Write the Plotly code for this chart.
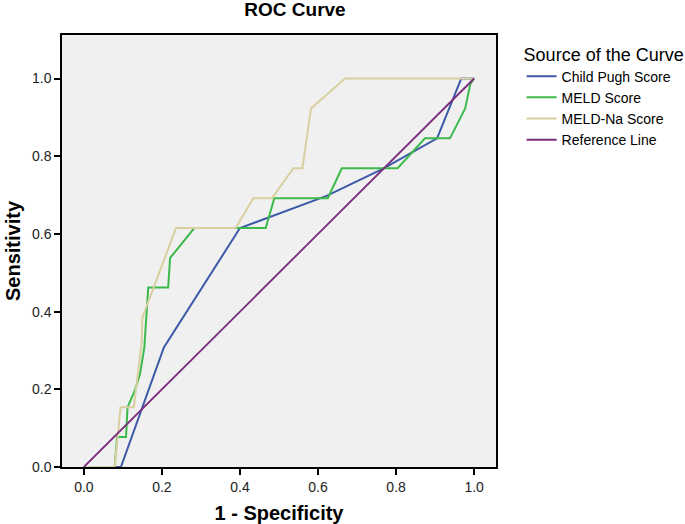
import plotly.graph_objects as go

# ROC coordinates (1 - specificity, sensitivity)
child_fpr = [0.0, 0.095, 0.205, 0.400, 0.622, 0.767, 0.905, 0.967, 1.0]
child_tpr = [0.0, 0.0, 0.308, 0.615, 0.698, 0.768, 0.846, 1.0, 1.0]

meld_fpr = [0.0, 0.079, 0.085, 0.108, 0.112, 0.131, 0.144, 0.155, 0.165, 0.216,
            0.221, 0.283, 0.466, 0.488, 0.625, 0.661, 0.804, 0.874, 0.938, 0.977,
            0.990, 1.0]
meld_tpr = [0.0, 0.0, 0.077, 0.077, 0.154, 0.198, 0.240, 0.308, 0.462, 0.462,
            0.538, 0.615, 0.615, 0.692, 0.692, 0.769, 0.769, 0.846, 0.846, 0.923,
            0.985, 1.0]

meldna_fpr = [0.0, 0.079, 0.094, 0.128, 0.148, 0.150, 0.236, 0.389, 0.434, 0.482,
              0.537, 0.560, 0.582, 0.669, 1.0]
meldna_tpr = [0.0, 0.0, 0.154, 0.154, 0.320, 0.385, 0.615, 0.615, 0.692, 0.692,
              0.769, 0.769, 0.923, 1.0, 1.0]

ref_x = [0.0, 1.0]
ref_y = [0.0, 1.0]

tick_vals = [0.0, 0.2, 0.4, 0.6, 0.8, 1.0]

font = "Arial, Liberation Sans, sans-serif"

fig = go.Figure()
fig.add_trace(go.Scatter(x=child_fpr, y=child_tpr, mode="lines",
                         name="Child Pugh Score",
                         line=dict(color="#3d5aa8", width=2)))
fig.add_trace(go.Scatter(x=meld_fpr, y=meld_tpr, mode="lines",
                         name="MELD Score",
                         line=dict(color="#3cb94b", width=2)))
fig.add_trace(go.Scatter(x=meldna_fpr, y=meldna_tpr, mode="lines",
                         name="MELD-Na Score",
                         line=dict(color="#d8d0a0", width=2)))
fig.add_trace(go.Scatter(x=ref_x, y=ref_y, mode="lines",
                         name="Reference Line",
                         line=dict(color="#7a2b7c", width=1.8)))

axis_style = dict(
    showline=True, mirror=True, linecolor="black", linewidth=1.5,
    ticks="outside", ticklen=6, tickwidth=1.5, tickcolor="black",
    tickvals=tick_vals, tickformat=".1f",
    showgrid=False, zeroline=False,
    tickfont=dict(family=font, size=14, color="#222222"),
)

fig.update_layout(
    width=685, height=524,
    margin=dict(l=62, r=189, t=35, b=57, autoexpand=False),
    paper_bgcolor="white",
    plot_bgcolor="#f0f0f0",
    font=dict(family=font, color="black"),
    title=dict(text="<b>ROC Curve</b>", x=295 / 685, xanchor="center",
               y=1 - 9 / 524, yanchor="middle", font=dict(size=19, color="black")),
    xaxis=dict(range=[-0.056, 1.056],
               title=dict(text="<b>1 - Specificity</b>", font=dict(size=20), standoff=13),
               **axis_style),
    yaxis=dict(range=[0, 1.112],
               title=dict(text="<b>Sensitivity</b>", font=dict(size=20), standoff=6),
               **axis_style),
    showlegend=True,
    legend=dict(
        title=dict(text="Source of the Curve", font=dict(size=18, color="black")),
        font=dict(size=14, color="black"),
        x=1.059, xanchor="left", y=0.995, yanchor="top",
        bgcolor="rgba(0,0,0,0)", tracegroupgap=0,
    ),
)

# plain page: no default body margin around the figure
fig.write_html("out.html", config={"displayModeBar": False},
               post_script="document.body.style.margin='0';")
